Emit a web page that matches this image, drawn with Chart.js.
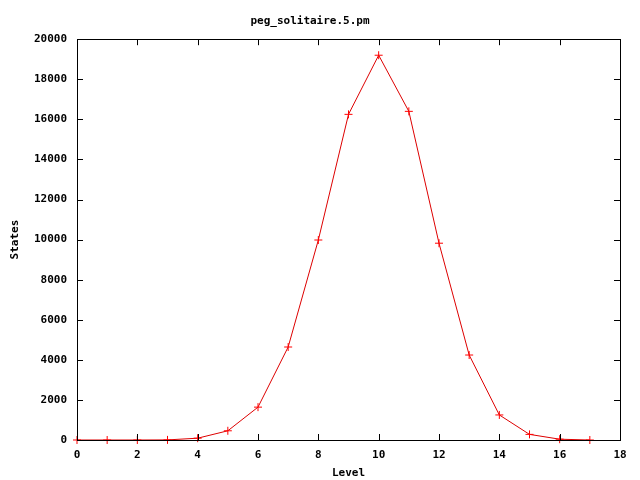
<!DOCTYPE html>
<html>
<head>
<meta charset="utf-8">
<script src="https://cdn.jsdelivr.net/npm/chart.js@4.4.0/dist/chart.umd.min.js"></script>
<style>
  html, body { margin: 0; padding: 0; background: #fff; }
  #box { width: 640px; height: 480px; }
</style>
</head>
<body>
<div id="box"><canvas id="plot" width="640" height="480"></canvas></div>
<script>
const levels = [0, 1, 2, 3, 4, 5, 6, 7, 8, 9, 10, 11, 12, 13, 14, 15, 16, 17];
const states = [0, 0, 0, 5, 90, 460, 1640, 4640, 9980, 16250, 19200, 16400, 9820, 4240, 1250, 280, 40, 0];
const xTickValues = [0, 2, 4, 6, 8, 10, 12, 14, 16, 18];
const yTickValues = [0, 2000, 4000, 6000, 8000, 10000, 12000, 14000, 16000, 18000, 20000];

const font = { family: "'DejaVu Sans Mono', 'Liberation Mono', monospace", size: 11, weight: "bold" };

// gnuplot style: frame around the plot plus inward ticks on all four sides
const frameTicks = {
    id: "frameTicks",
    afterDraw(chart) {
        const ctx = chart.ctx;
        const a = chart.chartArea;
        const xs = chart.scales.x, ys = chart.scales.y;
        ctx.save();
        ctx.strokeStyle = "#000";
        ctx.lineWidth = 1;
        ctx.beginPath();
        xs.ticks.forEach(t => {
            const px = Math.round(xs.getPixelForValue(t.value)) + 0.5;
            ctx.moveTo(px, a.bottom); ctx.lineTo(px, a.bottom - 6);
            ctx.moveTo(px, a.top); ctx.lineTo(px, a.top + 6);
        });
        ys.ticks.forEach(t => {
            const py = Math.round(ys.getPixelForValue(t.value)) + 0.5;
            ctx.moveTo(a.left, py); ctx.lineTo(a.left + 6, py);
            ctx.moveTo(a.right, py); ctx.lineTo(a.right - 6, py);
        });
        ctx.stroke();
        ctx.strokeRect(Math.round(a.left) + 0.5, Math.round(a.top) + 0.5,
            Math.round(a.right - a.left), Math.round(a.bottom - a.top));
        ctx.restore();
    }
};

new Chart(document.getElementById("plot").getContext("2d"), {
    type: "line",
    data: {
        labels: levels,
        datasets: [{
            data: levels.map((l, i) => ({ x: l, y: states[i] })),
            borderColor: "#dd0000",
            borderWidth: 1,
            pointStyle: "cross",
            pointRadius: 4,
            pointBorderColor: "#ff0000",
            pointBorderWidth: 1,
            tension: 0,
            clip: false
        }]
    },
    options: {
        responsive: false,
        animation: false,
        events: [],
        layout: { padding: { top: 0, right: 20, left: 0, bottom: 0 } },
        scales: {
            x: {
                type: "linear",
                min: 0,
                max: 18,
                afterBuildTicks: s => { s.ticks = xTickValues.map(v => ({ value: v })); },
                afterFit: s => { s.height = 40; },
                grid: { display: false, drawTicks: false },
                border: { display: false },
                ticks: { color: "#000", font: font, padding: 9, maxRotation: 0 },
                title: { display: true, text: "Level", color: "#000", font: font, padding: { top: 2, bottom: 0 } }
            },
            y: {
                min: 0,
                max: 20000,
                afterBuildTicks: s => { s.ticks = yTickValues.map(v => ({ value: v })); },
                afterFit: s => { s.width = 77; },
                grid: { display: false, drawTicks: false },
                border: { display: false },
                ticks: { color: "#000", font: font, padding: 10, callback: v => String(v) },
                title: { display: true, text: "States", color: "#000", font: font, padding: { top: 9, bottom: 0 } }
            }
        },
        plugins: {
            legend: { display: false },
            tooltip: { enabled: false },
            title: {
                display: true,
                text: "peg_solitaire.5.pm",
                color: "#000",
                font: font,
                padding: { top: 15, bottom: 11 }
            }
        }
    },
    plugins: [frameTicks]
});
</script>
</body>
</html>
